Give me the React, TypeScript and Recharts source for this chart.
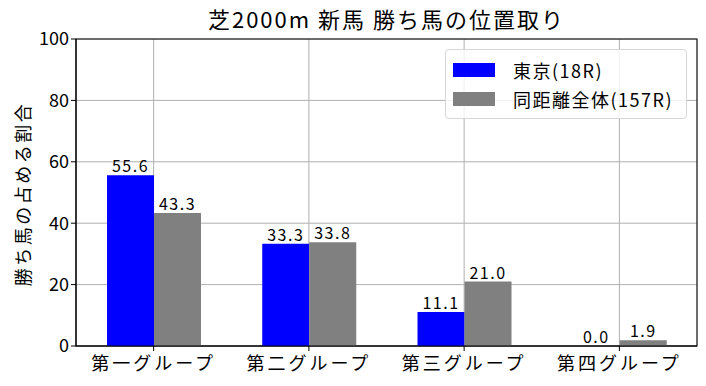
import { BarChart, Bar, XAxis, YAxis, CartesianGrid, LabelList, usePlotArea } from "recharts";

const categories = ["第一グループ", "第二グループ", "第三グループ", "第四グループ"];
const tokyo = [55.6, 33.3, 11.1, 0.0];
const overall = [43.3, 33.8, 21.0, 1.9];
const yTicks = [0, 20, 40, 60, 80, 100];

const data = categories.map((name, i) => ({ name, tokyo: tokyo[i], overall: overall[i] }));

const FONT = "'Noto Sans CJK JP', 'Noto Sans', sans-serif";

function Frame() {
  const area = usePlotArea();
  if (!area) return null;
  return <rect x={area.x} y={area.y} width={area.width} height={area.height} fill="none" stroke="#000" strokeWidth={1} />;
}

function labelText(x: number, y: number, value: number, key?: string) {
  return (
    <text key={key} x={x} y={y} textAnchor="middle" fill="#000" fontSize={16} fontFamily={FONT} letterSpacing={1.5}>
      {value.toFixed(1)}
    </text>
  );
}

function TokyoLabel(props: any) {
  const { x, y, width, value } = props;
  if (value == null) return null;
  return labelText(Number(x) + Number(width) / 2, Number(y) - 3, Number(value));
}

// zero-height blue bars get no label of their own, so the gray bar beside it draws it
function OverallLabel(props: any) {
  const { x, y, width, height, value, index } = props;
  if (value == null) return null;
  const w = Number(width);
  const out = [labelText(Number(x) + w / 2, Number(y) - 3, Number(value), "o")];
  if (tokyo[index] === 0) {
    out.push(labelText(Number(x) - w / 2, Number(y) + Number(height) - 3, tokyo[index], "t"));
  }
  return <g>{out}</g>;
}

function LegendBox() {
  const items = [
    { label: "東京(18R)", color: "#0000ff" },
    { label: "同距離全体(157R)", color: "#808080" },
  ];
  return (
    <div
      style={{
        position: "absolute",
        left: 445,
        top: 49,
        width: 226,
        background: "rgba(255,255,255,0.8)",
        border: "1px solid #d6d6d6",
        borderRadius: 4,
        padding: "5px 7px 5px 7px",
        fontFamily: FONT,
        fontSize: 18,
        letterSpacing: 1.5,
        color: "#000",
      }}
    >
      {items.map((it) => (
        <div key={it.label} style={{ display: "flex", alignItems: "center", height: 29 }}>
          <span style={{ display: "inline-block", width: 42, height: 14, background: it.color, marginRight: 18 }} />
          <span>{it.label}</span>
        </div>
      ))}
    </div>
  );
}

export default function App() {
  return (
    <div style={{ position: "absolute", left: 0, top: 0, width: 706, height: 386, background: "#fff" }}>
      <div
        style={{
          position: "absolute",
          left: 76,
          width: 621,
          top: 3,
          textAlign: "center",
          fontFamily: FONT,
          fontSize: 22,
          letterSpacing: 2,
          lineHeight: "30px",
        }}
      >
        芝2000m 新馬 勝ち馬の位置取り
      </div>
      <BarChart
        width={706}
        height={386}
        data={data}
        margin={{ top: 39, right: 9, bottom: 10, left: 30 }}
        barGap={0}
        barCategoryGap={30}
      >
        <CartesianGrid stroke="#b0b0b0" strokeWidth={1} />
        <XAxis
          dataKey="name"
          height={30}
          tickLine={{ stroke: "#000" }}
          axisLine={{ stroke: "#000" }}
          tickSize={5}
          tick={{ fill: "#000", fontSize: 18, fontFamily: FONT, dy: 4, letterSpacing: 3 }}
        />
        <YAxis
          domain={[0, 100]}
          ticks={yTicks}
          width={46}
          tickLine={{ stroke: "#000" }}
          axisLine={{ stroke: "#000" }}
          tickSize={5}
          tick={{ fill: "#000", fontSize: 18, fontFamily: FONT }}
        />
        <Bar dataKey="tokyo" fill="#0000ff" barSize={47} isAnimationActive={false}>
          <LabelList dataKey="tokyo" content={TokyoLabel} />
        </Bar>
        <Bar dataKey="overall" fill="#808080" barSize={47} isAnimationActive={false}>
          <LabelList dataKey="overall" content={OverallLabel} />
        </Bar>
        <Frame />
        <text
          x={22}
          y={194}
          transform="rotate(-90 22 194)"
          textAnchor="middle"
          dominantBaseline="central"
          fill="#000"
          fontSize={18}
          fontFamily={FONT}
          letterSpacing={2.5}
        >
          勝ち馬の占める割合
        </text>
      </BarChart>
      <LegendBox />
    </div>
  );
}
